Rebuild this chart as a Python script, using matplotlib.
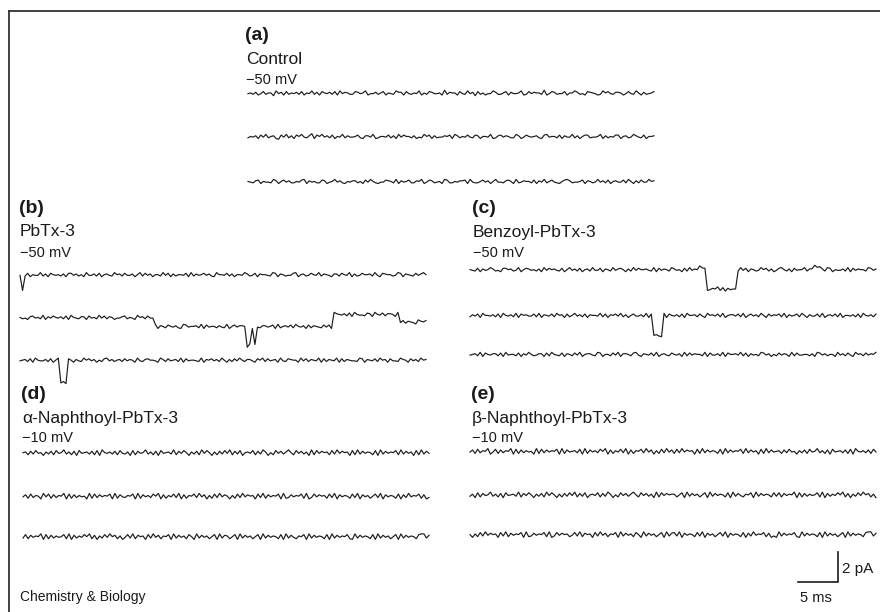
import matplotlib
matplotlib.use("Agg")
import matplotlib.pyplot as plt
import numpy as np
from matplotlib.lines import Line2D

plt.rcParams["font.family"] = ["Liberation Sans", "DejaVu Sans"]

W, H = 880, 612
SWEEP_MS = 50.75          # length of each sweep
PX_PER_MS = 8.0           # 5 ms scale bar = 40 px
PX_PER_PA = 15.0          # 2 pA scale bar = 30 px
NOISE_STEP = 0.046        # pA per noise level

# baseline noise, one digit per sample (level 0-9), read roughly off the sweeps
noise_a = [
    "4536247355184627354637254836275463728465"
    "3376458244635725438662743548253764452936"
    "5527438461735244863357264458237465539247"
    "6344725586342765423857436652474385263457",
    "3546274835621748362758436927584637254836"
    "4457326648235547362847553624385726344657"
    "2863547437625548236746533862475456327845"
    "5372644836257734458263547725634864372556",
    "5436725443862574633547826453376245846325"
    "4663527485324476538264573365824763452873"
    "3546672843357462584436752834655372648357"
    "4325786344572653484637256447385263744856",
]
noise_b = [
    "4637254483627545362774635284463725643856"
    "3744625837462553847263554728364574632855"
    "4736255486347265543872653447825634754836"
    "5426637548263475563842765534872654374685",
    "5342674538264754637285436627453847365244"
    "6735428563744826537546328745563827455364"
    "3825746653827436645728356473854627365437"
    "4728654637285443762854736652847365428657",
    "4563728544637258463752643857462537846356"
    "3746528436755428637456382745543826574638"
    "5263748536642758374562843765528473654827"
    "3654827365443872654738562744386527463856",
]
noise_c = [
    "5437264586342775634825764536284756437258"
    "4637256384472653846752638475564382746538"
    "6452738465527346583726455384726534857362"
    "4785362745583627456387254463827465538746",
    "3647285546372854638275644738265473856273"
    "5846372655483726574836257446382756438275"
    "4637285563742856473825664738257463852746"
    "5738264573852644738256473825546372854637",
    "4563827546637284553726485346627385437265"
    "3748256643872553748266537842654738256437"
    "5462837465538274463827556483726453874625"
    "3746528374455362874635528463742856374658",
]
noise_d = [
    "5627384516372845936271845637281954637284"
    "3618274593627184563927485163729485162738"
    "4927381564827396152847369528473619284756"
    "2839475618293746528193746582937461829374",
    "4728365194827365918273645192837465819274"
    "3658192746385917264839172658394716283947"
    "5162839475618392746581923746582913847562"
    "8391746528391746258391746528173946582713",
    "3827465918273645829173648592716384957261"
    "4839275618394726581937462851937462581937"
    "6258193746258193746528193742658193746528"
    "1937465821937465281937462581937465289937",
]
noise_e = [
    "4728365914827365918273645192837465819274"
    "5638192746385917264839172658394716283947"
    "2839475618293746528193746582937461829374"
    "5627384516372845936271845637281954637284",
    "3618274593627184563927485163729485162738"
    "4927381564827396152847369528473619284756"
    "6258193746258193746528193742658193746528"
    "3827465918273645829173648592716384957261",
    "5162839475618392746581923746582913847562"
    "4839275618394726581937462851937462581937"
    "8391746528391746258391746528173946582713"
    "1937465821937465281937462581937465289937",
]

# channel events per sweep: (start ms, end ms, current change pA)
events_a = [[], [], []]
events_b = [
    [(0.15, 0.5, -1.1)],
    [(16.9, 39.1, -0.6), (28.3, 28.8, -1.3), (29.1, 29.5, -1.3),
     (39.1, 47.5, 0.2), (47.5, 50.8, -0.3)],
    [(5.1, 5.8, -1.47)],
]
events_c = [
    [(28.5, 29.3, 0.25), (29.6, 33.3, -1.29), (42.5, 44.0, 0.2)],
    [(22.7, 24.1, -1.33)],
    [],
]
events_d = [[], [], []]
events_e = [[], [], []]

titles = ["(a)", "(b)", "(c)", "(d)", "(e)"]
compounds = ["Control", "PbTx-3", "Benzoyl-PbTx-3",
             "\u03b1-Naphthoyl-PbTx-3", "\u03b2-Naphthoyl-PbTx-3"]
voltages = ["\u221250 mV", "\u221250 mV", "\u221250 mV",
            "\u221210 mV", "\u221210 mV"]

# layout in pixels: sweep left edge, first sweep baseline, sweep offsets (pA), label x
layout = [
    dict(x0=248, y0=93.3, offsets=[0, -2.9, -5.9], lx=245, ly=40),
    dict(x0=20, y0=275, offsets=[0, -2.85, -5.7], lx=19, ly=213),
    dict(x0=470, y0=270, offsets=[0, -3.05, -5.65], lx=472, ly=213),
    dict(x0=23, y0=453, offsets=[0, -2.9, -5.6], lx=21, ly=399),
    dict(x0=470, y0=451.7, offsets=[0, -2.9, -5.55], lx=471, ly=399),
]
noises = [noise_a, noise_b, noise_c, noise_d, noise_e]
events = [events_a, events_b, events_c, events_d, events_e]

fig = plt.figure(figsize=(W / 100, H / 100), dpi=100)
fig.patch.set_facecolor("white")

YTOP, YBOT = 1.5, -9.0


def sweep(levels, evts):
    vals = np.array([int(ch) for ch in levels], dtype=float)
    t = np.linspace(0, SWEEP_MS, len(vals))
    y = (vals - 4.5) * NOISE_STEP
    for s, e, amp in evts:
        y[(t >= s) & (t < e)] += amp
    return t, y


axes = []
for lay, nz, ev in zip(layout, noises, events):
    left = lay["x0"] / W
    bottom = 1 - (lay["y0"] - YBOT * PX_PER_PA) / H
    ax = fig.add_axes([left, bottom, SWEEP_MS * PX_PER_MS / W,
                       (YTOP - YBOT) * PX_PER_PA / H])
    ax.set_xlim(0, SWEEP_MS)
    ax.set_ylim(YBOT, YTOP)
    ax.axis("off")
    ax.patch.set_alpha(0)
    for off, levels, evts in zip(lay["offsets"], nz, ev):
        t, y = sweep(levels, evts)
        ax.plot(t, y + off, color="#1c1c1c", lw=0.85, clip_on=False)
    axes.append(ax)


def ftext(x, y, s, **kw):
    fig.text(x / W, 1 - y / H, s, va="baseline", ha="left", color="#1a1a1a", **kw)


for lay, ttl, comp, volt in zip(layout, titles, compounds, voltages):
    ftext(lay["lx"], lay["ly"], ttl, fontsize=14, fontweight="bold")
    ftext(lay["lx"] + 1, lay["ly"] + 23.5, comp, fontsize=12.5)
    ftext(lay["lx"] + 1, lay["ly"] + 43.5, volt, fontsize=10.5)

# scale bar in panel (e) data units
ax_e = axes[4]
bar_t0 = (797.7 - layout[4]["x0"]) / PX_PER_MS
bar_i0 = -(581.7 - layout[4]["y0"]) / PX_PER_PA
ax_e.plot([bar_t0, bar_t0 + 5, bar_t0 + 5], [bar_i0, bar_i0, bar_i0 + 2],
          color="#1c1c1c", lw=1.2, clip_on=False, solid_joinstyle="miter")
ftext(842, 573, "2 pA", fontsize=11)
ftext(800, 601.5, "5 ms", fontsize=10.5)
ftext(20, 601.5, "Chemistry & Biology", fontsize=10)

# frame lines (top and left)
fig.add_artist(Line2D([9 / W, 1], [1 - 11 / H, 1 - 11 / H],
                      transform=fig.transFigure, color="#333333", lw=1.3))
fig.add_artist(Line2D([9 / W, 9 / W], [0, 1 - 11 / H],
                      transform=fig.transFigure, color="#333333", lw=1.3))

fig.savefig("out.png", dpi=100)
plt.close(fig)
